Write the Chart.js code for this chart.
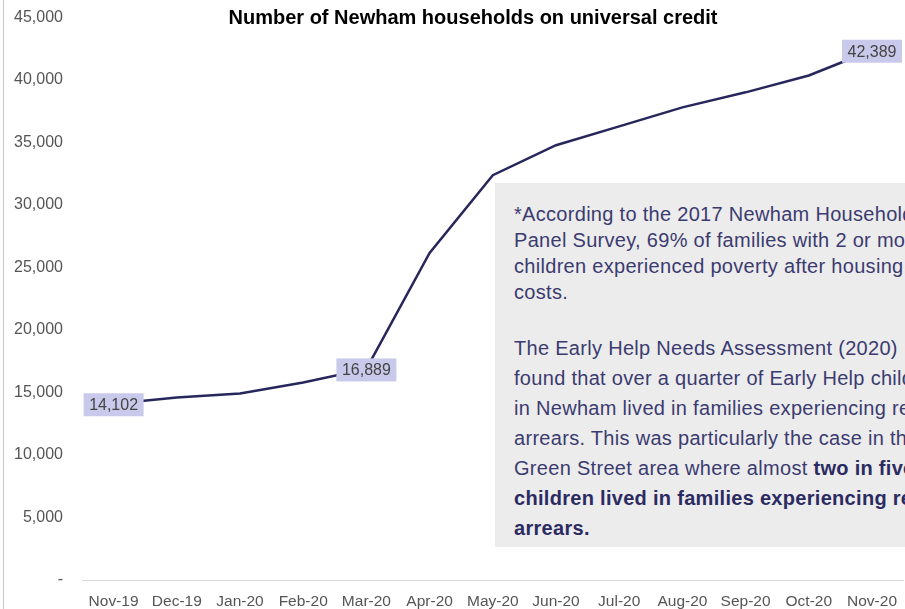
<!DOCTYPE html>
<html>
<head>
<meta charset="utf-8">
<script src="https://cdn.jsdelivr.net/npm/chart.js@4"></script>
<style>
  html, body { margin: 0; padding: 0; background: #fff; overflow: hidden; }
  #wrap { position: relative; width: 905px; height: 609px; overflow: hidden; }
  #ucChart { position: absolute; left: 0; top: -11px; }
  .nota {
    position: absolute; left: 495px; top: 183px; width: 540px; height: 364px;
    background: #ececec; color: #3b3b70; box-sizing: border-box;
    padding: 18px 0 0 19px; font-family: "Liberation Sans", Arial, sans-serif;
    font-size: 20px; letter-spacing: 0.3px; white-space: nowrap;
  }
  .nota p { margin: 0; }
  .nota .p1 { line-height: 26px; margin-bottom: 28px; }
  .nota .p2 { line-height: 30px; }
  .nota b { color: #2b2b62; }
</style>
</head>
<body>
<div id="wrap">
  <canvas id="ucChart" width="909" height="620"></canvas>
  <div class="nota">
    <p class="p1">*According to the 2017 Newham Household<br>Panel Survey, 69% of families with 2 or more<br>children experienced poverty after housing<br>costs.</p>
    <p class="p2">The Early Help Needs Assessment (2020)<br>found that over a quarter of Early Help children<br>in Newham lived in families experiencing rent<br>arrears. This was particularly the case in the<br>Green Street area where almost <b>two in five</b><br><b>children lived in families experiencing rent</b><br><b>arrears.</b></p>
  </div>
</div>
<script>
// Hogares de Newham con crédito universal, nov-19 a nov-20
const meses = ['Nov-19', 'Dec-19', 'Jan-20', 'Feb-20', 'Mar-20', 'Apr-20', 'May-20',
               'Jun-20', 'Jul-20', 'Aug-20', 'Sep-20', 'Oct-20', 'Nov-20'];
const hogares = [14102, 14600, 14920, 15800, 16889, 26170, 32390,
                 34790, 36300, 37820, 39020, 40370, 42389];
const etiquetados = [0, 4, 12]; // índices con caja de valor
const ticksY = [0, 5000, 10000, 15000, 20000, 25000, 30000, 35000, 40000, 45000];

const FUENTE = '"Liberation Sans", Arial, sans-serif';
const DESFASE = 11; // el canvas sube 11px dentro del contenedor

// Título, borde izquierdo y cajas de valor
const extras = {
    id: 'extras',
    afterDraw(chart) {
        const ctx = chart.ctx;
        ctx.save();
        ctx.strokeStyle = '#c8c8c8';
        ctx.lineWidth = 1;
        ctx.beginPath();
        ctx.moveTo(3.5, 0);
        ctx.lineTo(3.5, chart.height);
        ctx.stroke();

        ctx.fillStyle = '#000';
        ctx.font = 'bold 20px ' + FUENTE;
        ctx.textAlign = 'center';
        ctx.textBaseline = 'middle';
        ctx.fillText('Number of Newham households on universal credit', 473, 18 + DESFASE);

        const meta = chart.getDatasetMeta(0);
        ctx.font = '16px ' + FUENTE;
        etiquetados.forEach(i => {
            const p = meta.data[i];
            const txt = hogares[i].toLocaleString('en-GB');
            const w = 60, h = 23;
            ctx.fillStyle = '#c9c9eb';
            ctx.fillRect(p.x - w / 2, p.y - h / 2 + 1, w, h);
            ctx.fillStyle = '#444';
            ctx.fillText(txt, p.x, p.y + 2);
        });
        ctx.restore();
    }
};

new Chart(document.getElementById('ucChart'), {
    type: 'line',
    data: {
        labels: meses,
        datasets: [{
            data: hogares,
            borderColor: '#27275c',
            borderWidth: 2.5,
            pointRadius: 0,
            tension: 0,
            fill: false
        }]
    },
    options: {
        responsive: false,
        animation: false,
        layout: { padding: { top: -2, right: 0, left: 0, bottom: 0 } },
        plugins: { legend: { display: false }, tooltip: { enabled: false } },
        scales: {
            x: {
                offset: true,
                afterFit: s => { s.height = 29; },
                grid: { display: false, drawTicks: false },
                border: { display: true, color: '#d9d9d9', width: 1 },
                ticks: { color: '#555', font: { family: FUENTE, size: 15.5 }, padding: 12, maxRotation: 0, autoSkip: false }
            },
            y: {
                min: 0, max: 45000,
                afterBuildTicks: s => { s.ticks = ticksY.map(v => ({ value: v })); },
                afterFit: s => { s.width = 82; },
                grid: { display: false, drawTicks: false },
                border: { display: false },
                ticks: {
                    color: '#555', padding: 19,
                    font: { family: FUENTE, size: 16 },
                    callback: v => v === 0 ? '-' : v.toLocaleString('en-GB')
                }
            }
        }
    },
    plugins: [extras]
});
</script>
</body>
</html>
